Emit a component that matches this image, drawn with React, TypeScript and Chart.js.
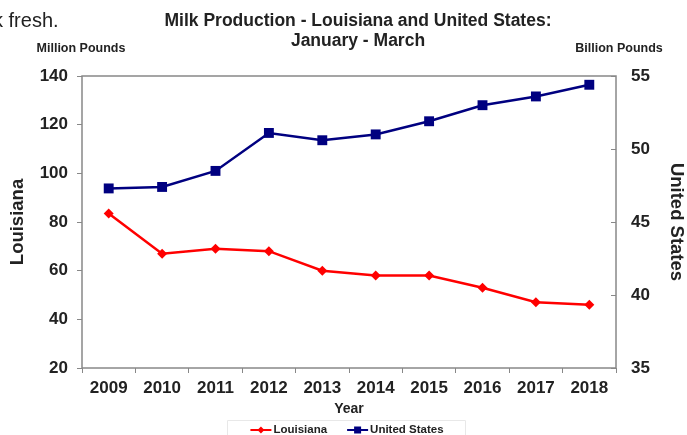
import { useEffect, useRef } from "react";
import { Chart, registerables } from "chart.js";

Chart.register(...registerables);

const years = ["2009", "2010", "2011", "2012", "2013", "2014", "2015", "2016", "2017", "2018"];
const louisiana = [83.5, 67, 69, 68, 60, 58, 58, 53, 47, 46];
const unitedStates = [47.3, 47.4, 48.5, 51.1, 50.6, 51.0, 51.9, 53.0, 53.6, 54.4];
const seriesNames = ["Louisiana", "United States"];
const titleLines = ["Milk Production - Louisiana and United States:", "January - March"];
const leftUnit = "Million Pounds";
const rightUnit = "Billion Pounds";
const leftRange = [20, 140, 20];
const rightRange = [35, 55, 5];
const pageText = "k fresh.";

const FAMILY = "'Liberation Sans', Arial, sans-serif";
const TEXT = "#222";
const RED = "#ff0000";
const NAVY = "#000080";

const decor = {
  id: "decor",
  beforeDatasetsDraw(chart: any) {
    const { ctx, chartArea: a } = chart;
    ctx.save();
    ctx.strokeStyle = "#888";
    ctx.lineWidth = 1.5;
    ctx.strokeRect(a.left, a.top, a.right - a.left, a.bottom - a.top);
    const y1 = chart.scales.y1;
    ctx.lineWidth = 1;
    y1.ticks.forEach((t: any) => {
      const py = Math.round(y1.getPixelForValue(t.value)) + 0.5;
      ctx.beginPath();
      ctx.moveTo(a.right - 5, py);
      ctx.lineTo(a.right, py);
      ctx.stroke();
    });
    ctx.restore();
  },
  afterDraw(chart: any) {
    const { ctx } = chart;
    ctx.save();
    ctx.fillStyle = TEXT;
    ctx.textAlign = "center";
    ctx.textBaseline = "middle";
    ctx.font = `bold 17.5px ${FAMILY}`;
    ctx.fillText(titleLines[0], 358, 21);
    ctx.fillText(titleLines[1], 358, 41.5);
    ctx.font = `bold 12.5px ${FAMILY}`;
    ctx.fillText(leftUnit, 81, 49);
    ctx.fillText(rightUnit, 619, 49);

    // legend
    ctx.font = `bold 11.5px ${FAMILY}`;
    const colors = [RED, NAVY];
    const lineLen = 21;
    const gapText = 2;
    const gapItems = 20;
    const widths = seriesNames.map((n) => lineLen + gapText + ctx.measureText(n).width);
    const total = widths.reduce((s, w) => s + w, 0) + gapItems * (seriesNames.length - 1);
    let x = 347 - total / 2;
    const ly = 430;
    ctx.strokeStyle = "#e8e8e8";
    ctx.lineWidth = 1;
    ctx.beginPath();
    ctx.moveTo(227.5, 440);
    ctx.lineTo(227.5, 420.5);
    ctx.lineTo(465.5, 420.5);
    ctx.lineTo(465.5, 440);
    ctx.stroke();
    seriesNames.forEach((name, i) => {
      ctx.strokeStyle = colors[i];
      ctx.fillStyle = colors[i];
      ctx.lineWidth = 2;
      ctx.beginPath();
      ctx.moveTo(x, ly);
      ctx.lineTo(x + lineLen, ly);
      ctx.stroke();
      const cx = x + lineLen / 2;
      ctx.beginPath();
      if (i === 0) {
        ctx.moveTo(cx, ly - 3.5);
        ctx.lineTo(cx + 3.5, ly);
        ctx.lineTo(cx, ly + 3.5);
        ctx.lineTo(cx - 3.5, ly);
        ctx.closePath();
      } else {
        ctx.rect(cx - 3.5, ly - 3.5, 7, 7);
      }
      ctx.fill();
      ctx.fillStyle = TEXT;
      ctx.textAlign = "left";
      ctx.fillText(name, x + lineLen + gapText, ly);
      x += widths[i] + gapItems;
    });
    ctx.restore();
  },
};

export default function App() {
  const ref = useRef<HTMLCanvasElement>(null);
  useEffect(() => {
    if (!ref.current) return;
    const tickFont = { family: FAMILY, size: 17, weight: "bold" as const };
    const chart = new Chart(ref.current, {
      type: "line",
      data: {
        labels: years,
        datasets: [
          {
            label: seriesNames[0],
            data: louisiana,
            yAxisID: "y",
            borderColor: RED,
            backgroundColor: RED,
            borderWidth: 2.5,
            pointStyle: "rectRot",
            pointRadius: 5,
            pointBorderWidth: 0,
            tension: 0,
          },
          {
            label: seriesNames[1],
            data: unitedStates,
            yAxisID: "y1",
            borderColor: NAVY,
            backgroundColor: NAVY,
            borderWidth: 2.5,
            pointStyle: "rect",
            pointRadius: 7,
            pointBorderWidth: 0,
            tension: 0,
          },
        ],
      },
      options: {
        responsive: false,
        animation: false,
        events: [],
        layout: { padding: { top: 76, bottom: 15, left: 0, right: 0 } },
        plugins: { legend: { display: false }, title: { display: false }, tooltip: { enabled: false } },
        scales: {
          x: {
            type: "category",
            offset: true,
            grid: { display: true, drawOnChartArea: false, drawTicks: true, tickLength: 5, color: "#888", offset: true },
            border: { display: false },
            ticks: { font: tickFont, color: TEXT, padding: 5, maxRotation: 0, autoSkip: false },
            title: {
              display: true,
              text: "Year",
              color: TEXT,
              font: { family: FAMILY, size: 14, weight: "bold" },
              padding: { top: 0, bottom: 2 },
            },
            afterFit(s: any) {
              s.height = 52;
            },
          },
          y: {
            position: "left",
            min: leftRange[0],
            max: leftRange[1],
            ticks: { stepSize: leftRange[2], font: tickFont, color: TEXT, padding: 9 },
            grid: { display: true, drawOnChartArea: false, drawTicks: true, tickLength: 5, color: "#888" },
            border: { display: false },
            title: {
              display: true,
              text: "Louisiana",
              color: TEXT,
              font: { family: FAMILY, size: 18.5, weight: "bold" },
              padding: { top: 7, bottom: 0 },
            },
            afterFit(s: any) {
              s.width = 82;
            },
          },
          y1: {
            position: "right",
            min: rightRange[0],
            max: rightRange[1],
            ticks: { stepSize: rightRange[2], font: tickFont, color: TEXT, padding: 15 },
            grid: { display: false, drawOnChartArea: false, drawTicks: false },
            border: { display: false },
            title: {
              display: true,
              text: "United States",
              color: TEXT,
              font: { family: FAMILY, size: 18.5, weight: "bold" },
              padding: { top: 0, bottom: 0 },
            },
            afterFit(s: any) {
              s.width = 71;
            },
          },
        },
      },
      plugins: [decor],
    });
    return () => chart.destroy();
  }, []);
  return (
    <div style={{ position: "fixed", left: 0, top: 0, width: 687, height: 435, background: "#fff", overflow: "hidden" }}>
      <canvas ref={ref} width={687} height={435} style={{ display: "block" }} />
      <div
        style={{
          position: "absolute",
          left: -7,
          top: 9,
          fontFamily: FAMILY,
          fontSize: 20,
          color: TEXT,
          lineHeight: "23px",
          whiteSpace: "nowrap",
        }}
      >
        {pageText}
      </div>
    </div>
  );
}
